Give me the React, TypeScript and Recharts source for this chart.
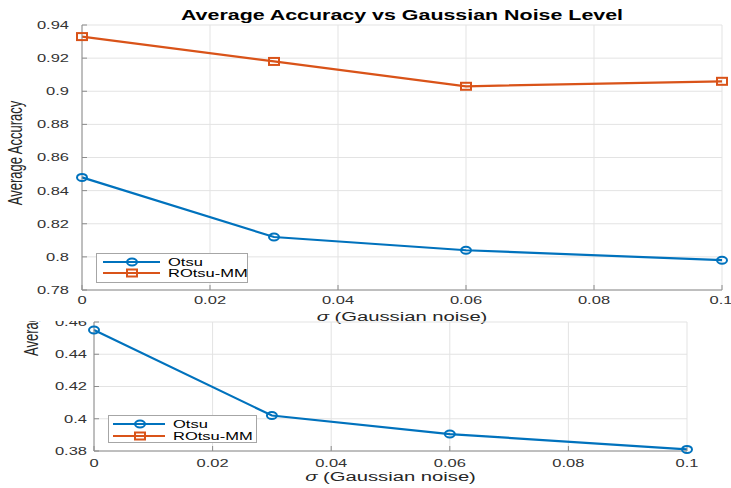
import { LineChart, Line, XAxis, YAxis, CartesianGrid, Legend, Label } from 'recharts';

// sigma values and average accuracies
const sigma = [0, 0.03, 0.06, 0.1];
const otsuTop = [0.848, 0.812, 0.804, 0.798];
const rotsuTop = [0.933, 0.918, 0.903, 0.906];
const otsuBottom = [0.455, 0.402, 0.3905, 0.381];

const xTicks = [0, 0.02, 0.04, 0.06, 0.08, 0.1];
const yTicksTop = [0.78, 0.8, 0.82, 0.84, 0.86, 0.88, 0.9, 0.92, 0.94];
const yTicksBottom = [0.38, 0.4, 0.42, 0.44, 0.46];
const seriesNames = ['Otsu', 'ROtsu-MM'];

const BLUE = '#0072BD';
const ORANGE = '#D95319';
const COLORS = [BLUE, ORANGE];
const FONT = '"Liberation Sans", Arial, Helvetica, sans-serif';
const SX = 1.5; // the source image is stretched sideways
const AXIS = '#8c8c8c';
const GRID = '#e3e3e3';

const topData = sigma.map((x, i) => ({ x, otsu: otsuTop[i], rotsu: rotsuTop[i] }));
const bottomData = sigma.map((x, i) => ({ x, otsu: otsuBottom[i] }));

const fmt = (v: number) => String(Number(v.toFixed(2)));
const stretch = (x: number, y: number) => `translate(${x},${y}) scale(${SX},1)`;

const YTick = (props: any) => (
  <text
    transform={stretch(props.x, props.y)}
    textAnchor="end"
    dy="0.36em"
    fontSize={11}
    fontFamily={FONT}
    fill="#333"
  >
    {fmt(props.payload.value)}
  </text>
);

const XTick = (props: any) => (
  <text
    transform={stretch(props.x, props.y)}
    textAnchor="middle"
    dy="0.71em"
    fontSize={11}
    fontFamily={FONT}
    fill="#333"
  >
    {fmt(props.payload.value)}
  </text>
);

const NoTick = () => <g />;

const CircleDot = (props: any) => (
  <ellipse
    key={`c-${props.index}`}
    cx={props.cx}
    cy={props.cy}
    rx={5}
    ry={3.5}
    fill="none"
    stroke={BLUE}
    strokeWidth={2}
  />
);

const SquareDot = (props: any) => (
  <rect
    key={`s-${props.index}`}
    x={props.cx - 5}
    y={props.cy - 3.5}
    width={10}
    height={7}
    fill="none"
    stroke={ORANGE}
    strokeWidth={2}
  />
);

const xLabel = (cx: number, y: number) => (
  <text transform={stretch(cx, y)} textAnchor="middle" fontSize={13.5} fontFamily={FONT} fill="#262626">
    <tspan fontStyle="italic">σ</tspan> (Gaussian noise)
  </text>
);

const LegendBox = ({ w, h, rowY, lx1, lx2, mx, tx }: any) => (
  <div
    style={{
      position: 'relative',
      width: w,
      height: h,
      background: '#fff',
      border: '1px solid #a6a6a6',
      boxSizing: 'border-box',
    }}
  >
    <svg width={w} height={h} style={{ position: 'absolute', left: -1, top: -1 }}>
      {seriesNames.map((name, i) => (
        <g key={name}>
          <line x1={lx1} x2={lx2} y1={rowY[i]} y2={rowY[i]} stroke={COLORS[i]} strokeWidth={2} />
          {i === 0 ? (
            <ellipse cx={mx} cy={rowY[i]} rx={5} ry={3.5} fill="none" stroke={BLUE} strokeWidth={2} />
          ) : (
            <rect x={mx - 5} y={rowY[i] - 3.5} width={10} height={7} fill="none" stroke={ORANGE} strokeWidth={2} />
          )}
          <text transform={stretch(tx, rowY[i])} dy="0.36em" fontSize={11} fontFamily={FONT} fill="#000">
            {name}
          </text>
        </g>
      ))}
    </svg>
  </div>
);

export default function App() {
  return (
    <div
      style={{
        position: 'fixed',
        left: 0,
        top: 0,
        width: 731,
        height: 488,
        background: '#fff',
        overflow: 'hidden',
      }}
    >
      {/* top panel */}
      <div style={{ position: 'absolute', left: 0, top: 0 }}>
        <LineChart width={731} height={330} data={topData} margin={{ top: 25, right: 9, left: 0, bottom: 8 }}>
          <CartesianGrid stroke={GRID} />
          <XAxis
            dataKey="x"
            type="number"
            domain={[0, 0.1]}
            ticks={xTicks}
            height={32}
            tickSize={-5}
            tickMargin={11}
            stroke={AXIS}
            tick={XTick}
          >
            <Label content={(p: any) => xLabel(p.viewBox.x + p.viewBox.width / 2, 321)} />
          </XAxis>
          <XAxis
            xAxisId="top"
            orientation="top"
            type="number"
            domain={[0, 0.1]}
            ticks={xTicks}
            height={0}
            tickSize={-5}
            stroke={AXIS}
            tick={NoTick}
          />
          <YAxis
            type="number"
            domain={[0.78, 0.94]}
            ticks={yTicksTop}
            width={82}
            tickSize={-5}
            tickMargin={18}
            stroke={AXIS}
            tick={YTick}
          >
            <Label
              content={() => (
                <g>
                  <text
                    transform={`translate(402,20) scale(1.53,1)`}
                    textAnchor="middle"
                    fontSize={14}
                    fontWeight="bold"
                    fontFamily={FONT}
                    fill="#000"
                  >
                    Average Accuracy vs Gaussian Noise Level
                  </text>
                  <text
                    transform={`translate(22,153) scale(${SX},1) rotate(-90)`}
                    textAnchor="middle"
                    fontSize={13}
                    fontFamily={FONT}
                    fill="#262626"
                  >
                    Average Accuracy
                  </text>
                </g>
              )}
            />
          </YAxis>
          <YAxis
            yAxisId="right"
            orientation="right"
            type="number"
            domain={[0.78, 0.94]}
            ticks={yTicksTop}
            width={0}
            tickSize={-5}
            stroke="#262626"
            tickLine={{ stroke: '#b0b0b0' }}
            tick={NoTick}
          />
          <Line
            dataKey="otsu"
            name="Otsu"
            stroke={BLUE}
            strokeWidth={2.2}
            dot={CircleDot}
            isAnimationActive={false}
          />
          <Line
            dataKey="rotsu"
            name="ROtsu-MM"
            stroke={ORANGE}
            strokeWidth={2.2}
            dot={SquareDot}
            isAnimationActive={false}
          />
          <Legend
            layout="vertical"
            align="center"
            verticalAlign="middle"
            wrapperStyle={{ position: 'absolute', left: 96, top: 253, width: 152, height: 30 }}
            content={() => <LegendBox w={152} h={30} rowY={[9, 20]} lx1={7} lx2={64} mx={36} tx={72} />}
          />
        </LineChart>
      </div>

      {/* bottom panel, cut off at the top */}
      <div style={{ position: 'absolute', left: 0, top: 321, width: 731, height: 167, overflow: 'hidden' }}>
        <div style={{ position: 'absolute', left: 0, top: -31 }}>
          <LineChart width={731} height={200} data={bottomData} margin={{ top: 32, right: 44, left: 0, bottom: 9 }}>
            <CartesianGrid stroke={GRID} />
            <XAxis
              dataKey="x"
              type="number"
              domain={[0, 0.1]}
              ticks={xTicks}
              height={30}
              tickSize={-5}
              tickMargin={13}
              stroke={AXIS}
              tick={XTick}
            >
              <Label content={(p: any) => xLabel(p.viewBox.x + p.viewBox.width / 2, 191)} />
            </XAxis>
            <XAxis
              xAxisId="top"
              orientation="top"
              type="number"
              domain={[0, 0.1]}
              ticks={xTicks}
              height={0}
              tickSize={-5}
              stroke={GRID}
              tick={NoTick}
            />
            <YAxis
              type="number"
              domain={[0.38, 0.46]}
              ticks={yTicksBottom}
              width={94}
              tickSize={-5}
              tickMargin={12}
              stroke={AXIS}
              tick={YTick}
            >
              <Label
                content={() => (
                  <text
                    transform={`translate(38,66) scale(${SX},1) rotate(-90)`}
                    textAnchor="start"
                    fontSize={13}
                    fontFamily={FONT}
                    fill="#262626"
                  >
                    Average Accuracy
                  </text>
                )}
              />
            </YAxis>
            <YAxis
              yAxisId="right"
              orientation="right"
              type="number"
              domain={[0.38, 0.46]}
              ticks={yTicksBottom}
              width={0}
              tickSize={-5}
              stroke="#262626"
              tickLine={{ stroke: '#b0b0b0' }}
              tick={NoTick}
            />
            <Line
              dataKey="otsu"
              name="Otsu"
              stroke={BLUE}
              strokeWidth={2.2}
              dot={CircleDot}
              isAnimationActive={false}
            />
            <Legend
              layout="vertical"
              align="center"
              verticalAlign="middle"
              wrapperStyle={{ position: 'absolute', left: 108, top: 125, width: 149, height: 28 }}
              content={() => <LegendBox w={149} h={28} rowY={[9, 21]} lx1={5} lx2={57} mx={32} tx={65} />}
            />
          </LineChart>
        </div>
      </div>
    </div>
  );
}
